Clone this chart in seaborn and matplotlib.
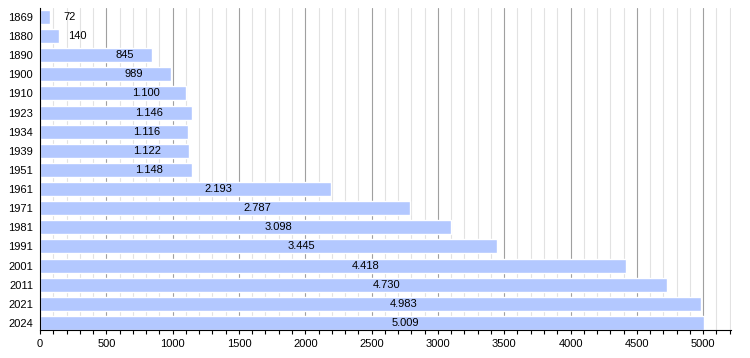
import pandas as pd
import matplotlib.pyplot as plt
import seaborn as sns
from matplotlib.ticker import MultipleLocator

# Données
annees = ['1869', '1880', '1890', '1900', '1910', '1923', '1934', '1939', '1951',
          '1961', '1971', '1981', '1991', '2001', '2011', '2021', '2024']
population = [72, 140, 845, 989, 1100, 1146, 1116, 1122, 1148,
              2193, 2787, 3098, 3445, 4418, 4730, 4983, 5009]
etiquettes = ['72', '140', '845', '989', '1.100', '1.146', '1.116', '1.122', '1.148',
              '2.193', '2.787', '3.098', '3.445', '4.418', '4.730', '4.983', '5.009']

df = pd.DataFrame({'Annee': annees, 'Population': population})

sns.set_style('white')
plt.rcParams['font.family'] = ['Liberation Sans', 'DejaVu Sans']

fig = plt.figure(figsize=(7.5, 3.58), dpi=100)
ax = fig.add_axes([0.0533, 0.078, 0.9214, 0.9])

sns.barplot(data=df, x='Population', y='Annee', orient='h', color='#b3c8ff',
            saturation=1, width=0.73, ax=ax, zorder=2)

# Étiquettes des valeurs
for i, (v, t) in enumerate(zip(population, etiquettes)):
    ax.annotate(t, xy=(v / 2, i), xytext=(19, 0), textcoords='offset pixels',
                ha='left', va='center', fontsize=8, color='black', zorder=3)

ax.set_xlim(0, 5210)
ax.set_ylim(16.37, -0.47)
ax.xaxis.set_major_locator(MultipleLocator(500))
ax.xaxis.set_minor_locator(MultipleLocator(100))
ax.grid(True, axis='x', which='major', color='#a0a0a0', linewidth=0.8, zorder=0)
ax.grid(True, axis='x', which='minor', color='#e2e2e2', linewidth=0.8, zorder=0)
ax.grid(False, axis='y')
ax.set_axisbelow(True)

for s in ['top', 'right']:
    ax.spines[s].set_visible(False)
for s in ['left', 'bottom']:
    ax.spines[s].set_color('black')
    ax.spines[s].set_linewidth(0.8)

ax.tick_params(axis='x', which='both', bottom=True, direction='out', length=3,
               width=0.8, color='black', labelsize=8, labelcolor='black')
ax.tick_params(axis='y', left=False, length=0, labelsize=8, pad=5, labelcolor='black')
ax.set_xlabel('')
ax.set_ylabel('')

plt.savefig('out.png', dpi=100)
